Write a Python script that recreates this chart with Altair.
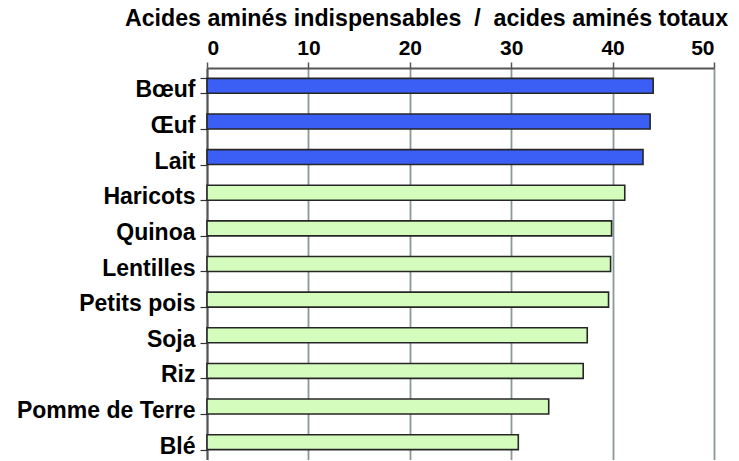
import altair as alt
import pandas as pd

aliments = ["Bœuf", "Œuf", "Lait", "Haricots", "Quinoa", "Lentilles",
            "Petits pois", "Soja", "Riz", "Pomme de Terre", "Blé"]
ratio = [44.0, 43.7, 43.0, 41.2, 39.9, 39.8, 39.6, 37.5, 37.1, 33.7, 30.7]
groupe = ["animal", "animal", "animal", "végétal", "végétal", "végétal",
          "végétal", "végétal", "végétal", "végétal", "végétal"]
x_ticks = [0, 10, 20, 30, 40, 50]
titre = "Acides aminés indispensables\u00a0\u00a0/\u00a0\u00a0acides aminés totaux"

df = pd.DataFrame({"aliment": aliments, "ratio": ratio, "groupe": groupe})

FONT = "Liberation Sans"

chart = alt.Chart(df).mark_bar(stroke="#262626", strokeWidth=1.6).encode(
    x=alt.X("ratio:Q",
            scale=alt.Scale(domain=[0, 50], nice=False),
            axis=alt.Axis(orient="top", values=x_ticks, title=titre,
                          titleFont=FONT, titleFontSize=23.2, titleFontWeight="bold",
                          titleColor="black", titleX=219, titleY=-43,
                          titleAlign="center", titleBaseline="alphabetic",
                          labelFont=FONT, labelFontSize=21, labelFontWeight="bold",
                          labelColor="black", labelBaseline="alphabetic",
                          labelPadding=8, tickSize=6, tickColor="#555555",
                          tickWidth=1.5,
                          domainColor="#555555", domainWidth=2,
                          grid=True, gridColor="#899898", gridWidth=1.8)),
    y=alt.Y("aliment:N", sort=aliments,
            scale=alt.Scale(paddingInner=0.58, paddingOuter=0.29),
            axis=alt.Axis(title=None, labelFont=FONT, labelFontSize=23,
                          labelFontWeight="bold", labelColor="black",
                          labelPadding=5, labelOffset=4, tickSize=7,
                          tickBand="extent", tickColor="#333333", tickWidth=1.2,
                          domainColor="#555555", domainWidth=2)),
    color=alt.Color("groupe:N",
                    scale=alt.Scale(domain=["animal", "végétal"],
                                    range=["#3b5ef5", "#d4fcbc"]),
                    legend=None),
).properties(
    width=507, height=392,
    autosize=alt.AutoSizeParams(type="none"),
    padding={"left": 199, "top": 60, "right": 17, "bottom": 0},
).configure_view(stroke=None).configure(background="white")

chart.save("out.html", embed_options={"renderer": "svg", "actions": False})
